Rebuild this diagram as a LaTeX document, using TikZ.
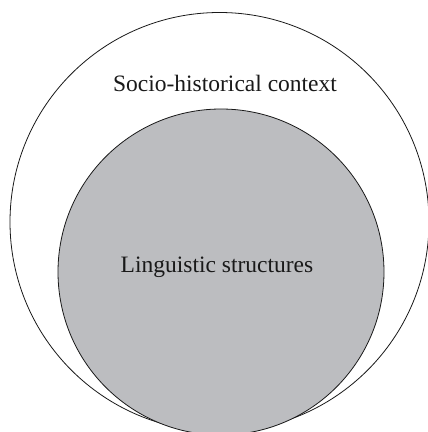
\documentclass[tikz,border=0pt]{standalone}
\usepackage{fontspec}
\setmainfont{Liberation Serif}
\definecolor{innergray}{RGB}{188,189,192}
\tikzset{
  ring/.style={draw=black!90, line width=0.8pt},
  lbl/.style={font=\fontsize{23.5}{28}\selectfont, text=black!90, anchor=base, inner sep=0pt}
}
\begin{document}
\begin{tikzpicture}[x=1pt,y=1pt]
\useasboundingbox (0,0) rectangle (428,432);
\clip (0,0) rectangle (428,432);
\node[ring, circle, minimum size=419pt, inner sep=0pt] (outer) at (219.5,210) {};
\node[ring, circle, fill=innergray, minimum size=326pt, inner sep=0pt] (inner) at (221,160) {};
\node[lbl] (ctx) at (225,340) {Socio-historical context};
\node[lbl] (ling) at (217,159) {Linguistic structures};
\end{tikzpicture}
\end{document}
